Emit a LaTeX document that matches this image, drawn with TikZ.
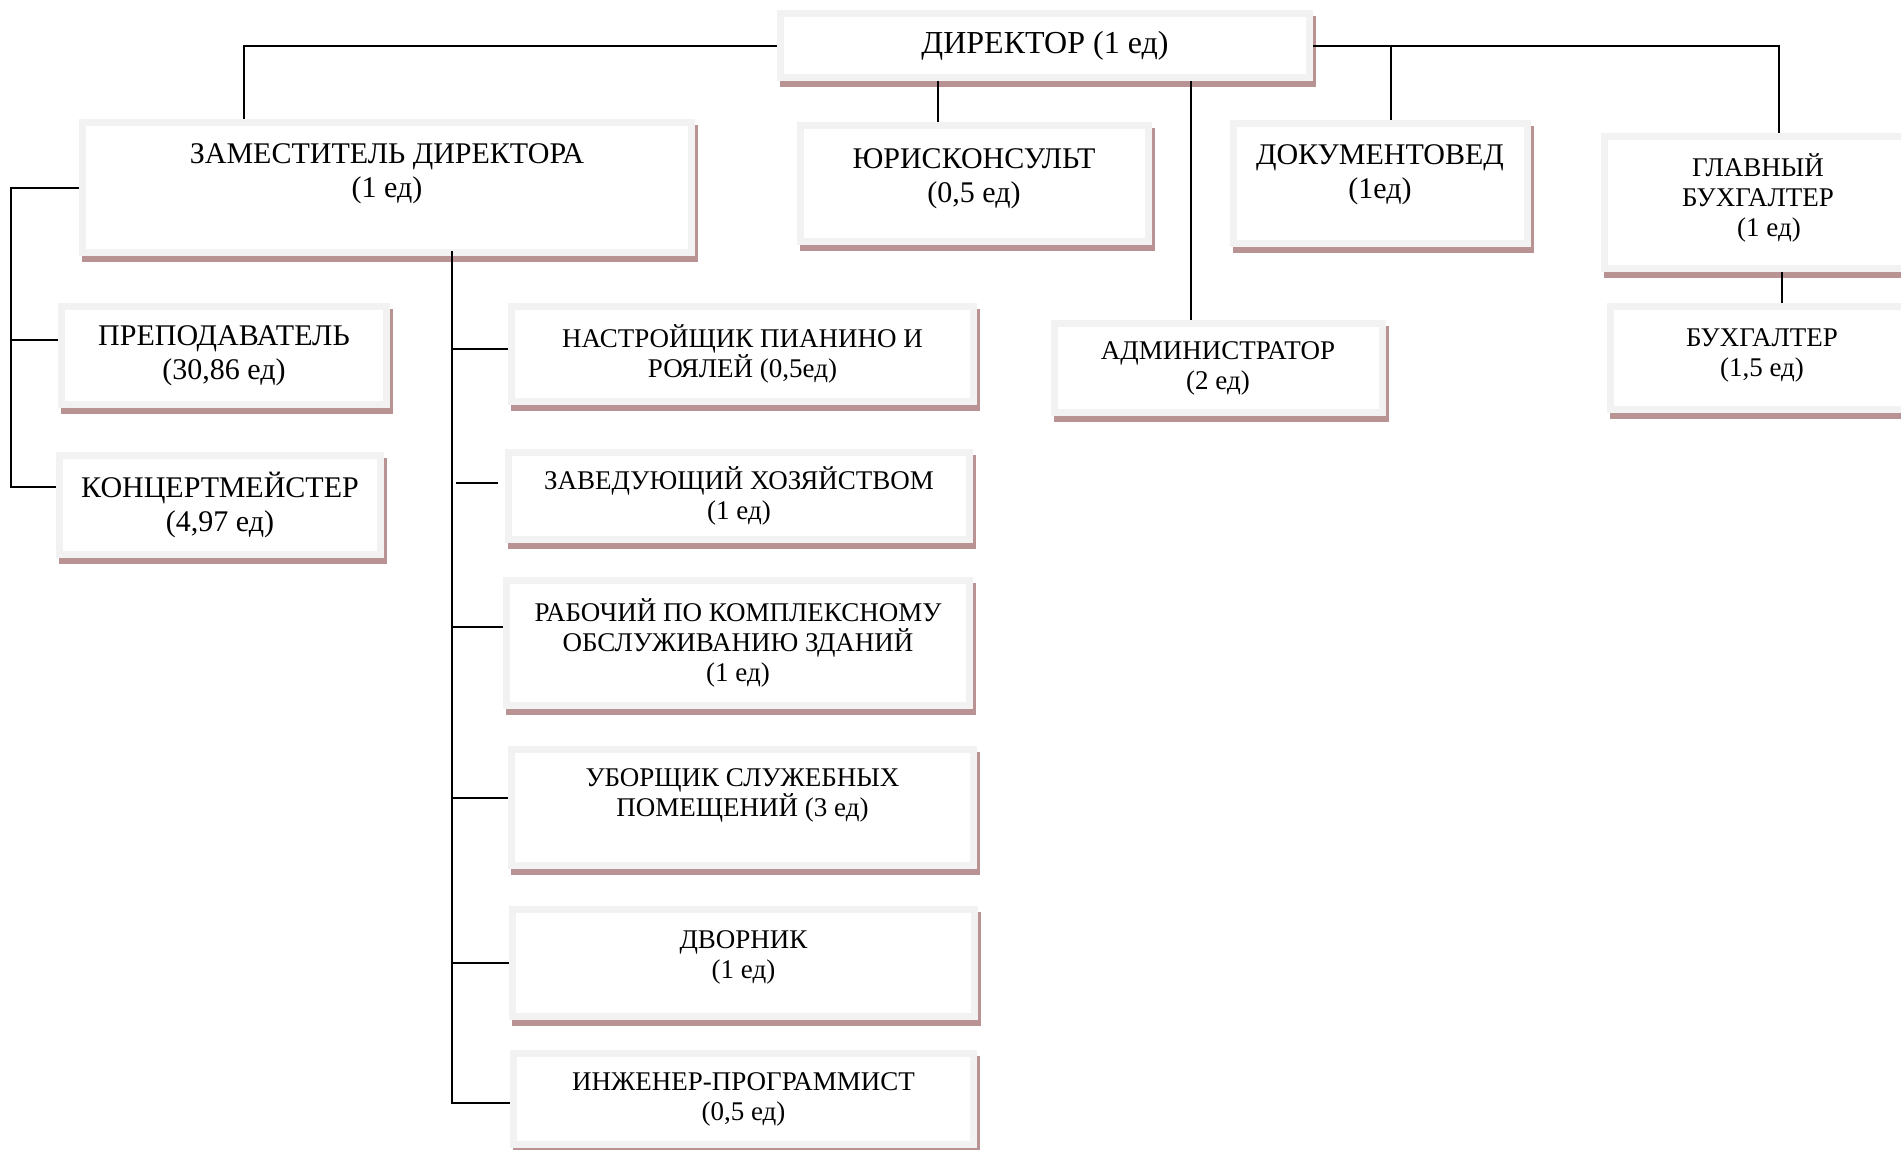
\documentclass[tikz,border=0pt]{standalone}
\usepackage{fontspec}
\setmainfont{Liberation Serif}
\usetikzlibrary{calc}

\definecolor{boxgrey}{RGB}{242,242,242}
\definecolor{shadowrose}{RGB}{185,147,147}

\tikzset{
  post/.style={draw=boxgrey, line width=3.5pt, fill=white, align=center, inner sep=0pt,
    preaction={draw=shadowrose, fill=shadowrose, line width=3.5pt,
      transform canvas={xshift=1.5pt, yshift=-3pt}}},
  head/.style={font=\fontsize{16}{19}\selectfont},
  big/.style={font=\fontsize{15}{17}\selectfont},
  small/.style={font=\fontsize{13.5}{15}\selectfont},
  link/.style={line width=0.9pt}
}

\begin{document}
\begin{tikzpicture}[x=0.5pt, y=-0.5pt]
\useasboundingbox (0,0) rectangle (1901,1150);
% верхний уровень
\node[post, head, minimum width=264.5pt, minimum height=32pt] (dir) at (1045,46) {ДИРЕКТОР (1 ед)};
\node[post, big, minimum width=304.5pt, minimum height=65pt] (dep) at (387,188) {ЗАМЕСТИТЕЛЬ ДИРЕКТОРА\\(1 ед)\\};
\node[post, big, minimum width=174pt, minimum height=58pt] (jur) at (974,183.5) {ЮРИСКОНСУЛЬТ\\(0,5 ед)\\[-9pt]};
\node[post, big, minimum width=147pt, minimum height=60pt] (doc) at (1380,183.5) {ДОКУМЕНТОВЕД\\(1ед)\\[-5pt]};
\node[post, small, minimum width=153.5pt, minimum height=66pt] (glb) at (1758,202.5) {ГЛАВНЫЙ\\БУХГАЛТЕР\\\hspace*{11pt}(1 ед)\\[-8pt]};
\node[post, small, minimum width=151.5pt, minimum height=51.5pt] (buh) at (1762,358) {БУХГАЛТЕР\\(1,5 ед)\\[-10pt]};
\node[post, small, minimum width=164pt, minimum height=44.5pt] (adm) at (1218,368) {АДМИНИСТРАТОР\\(2 ед)};
% заместитель слева
\node[post, big, minimum width=162.5pt, minimum height=49pt] (prep) at (224,355.5) {ПРЕПОДАВАТЕЛЬ\\(30,86 ед)};
\node[post, big, minimum width=160.5pt, minimum height=49.5pt] (konc) at (220,505) {КОНЦЕРТМЕЙСТЕР\\(4,97 ед)};
% хозяйственная часть
\node[post, small, minimum width=231pt, minimum height=47.5pt] (nastr) at (742.5,354) {НАСТРОЙЩИК ПИАНИНО И\\РОЯЛЕЙ (0,5ед)};
\node[post, small, minimum width=230.5pt, minimum height=43.5pt] (zav) at (739,496) {ЗАВЕДУЮЩИЙ ХОЗЯЙСТВОМ\\(1 ед)};
\node[post, small, minimum width=231.5pt, minimum height=62.5pt] (rab) at (738,643) {РАБОЧИЙ ПО КОМПЛЕКСНОМУ\\ОБСЛУЖИВАНИЮ ЗДАНИЙ\\(1 ед)};
\node[post, small, minimum width=231pt, minimum height=58pt] (ubor) at (742.5,807.5) {УБОРЩИК СЛУЖЕБНЫХ\\ПОМЕЩЕНИЙ (3 ед)\\};
\node[post, small, minimum width=231pt, minimum height=53.5pt] (dvor) at (743.5,963) {ДВОРНИК\\(1 ед)\\[-6.5pt]};
\node[post, small, minimum width=230pt, minimum height=45.5pt] (eng) at (743.5,1099) {ИНЖЕНЕР-ПРОГРАММИСТ\\(0,5 ед)};

% связи от директора
\draw[link] (dir.west) -| ($(dep.north)+(-143,0)$);
\draw[link] ($(dir.south)+(-107,0)$) coordinate (a) -- (a |- jur.north);
\draw[link] ($(dir.south)+(146,0)$) coordinate (b) -- (b |- adm.north);
\draw[link] (dir.east) -| ($(glb.north)+(21,0)$);
\draw[link] ($(doc.north)+(11,0)$) coordinate (c) -- (c |- dir.east);
\draw[link] ($(glb.south)+(24,0)$) coordinate (d) -- (d |- buh.north);

% связи от заместителя
\draw[link] (dep.west) -| ($(konc.west)+(-45,-18)$) -- ($(konc.west)+(0,-18)$);
\draw[link] ($(prep.west)+(-46,-15.5)$) -- ($(prep.west)+(0,-15.5)$);
\draw[link] ($(dep.south)+(65,-5)$) -- ($(eng.west)+(-58,4)$) -- ($(eng.west)+(0,4)$);
\draw[link] ($(nastr.west)+(-56,-5)$) -- ($(nastr.west)+(0,-5)$);
\draw[link] ($(zav.west)+(-49,-13)$) -- ($(zav.west)+(-7,-13)$);
\draw[link] ($(rab.west)+(-51,-16)$) -- ($(rab.west)+(0,-16)$);
\draw[link] ($(ubor.west)+(-56,-9.5)$) -- ($(ubor.west)+(0,-9.5)$);
\draw[link] ($(dvor.west)+(-57,0)$) -- (dvor.west);
\end{tikzpicture}
\end{document}
